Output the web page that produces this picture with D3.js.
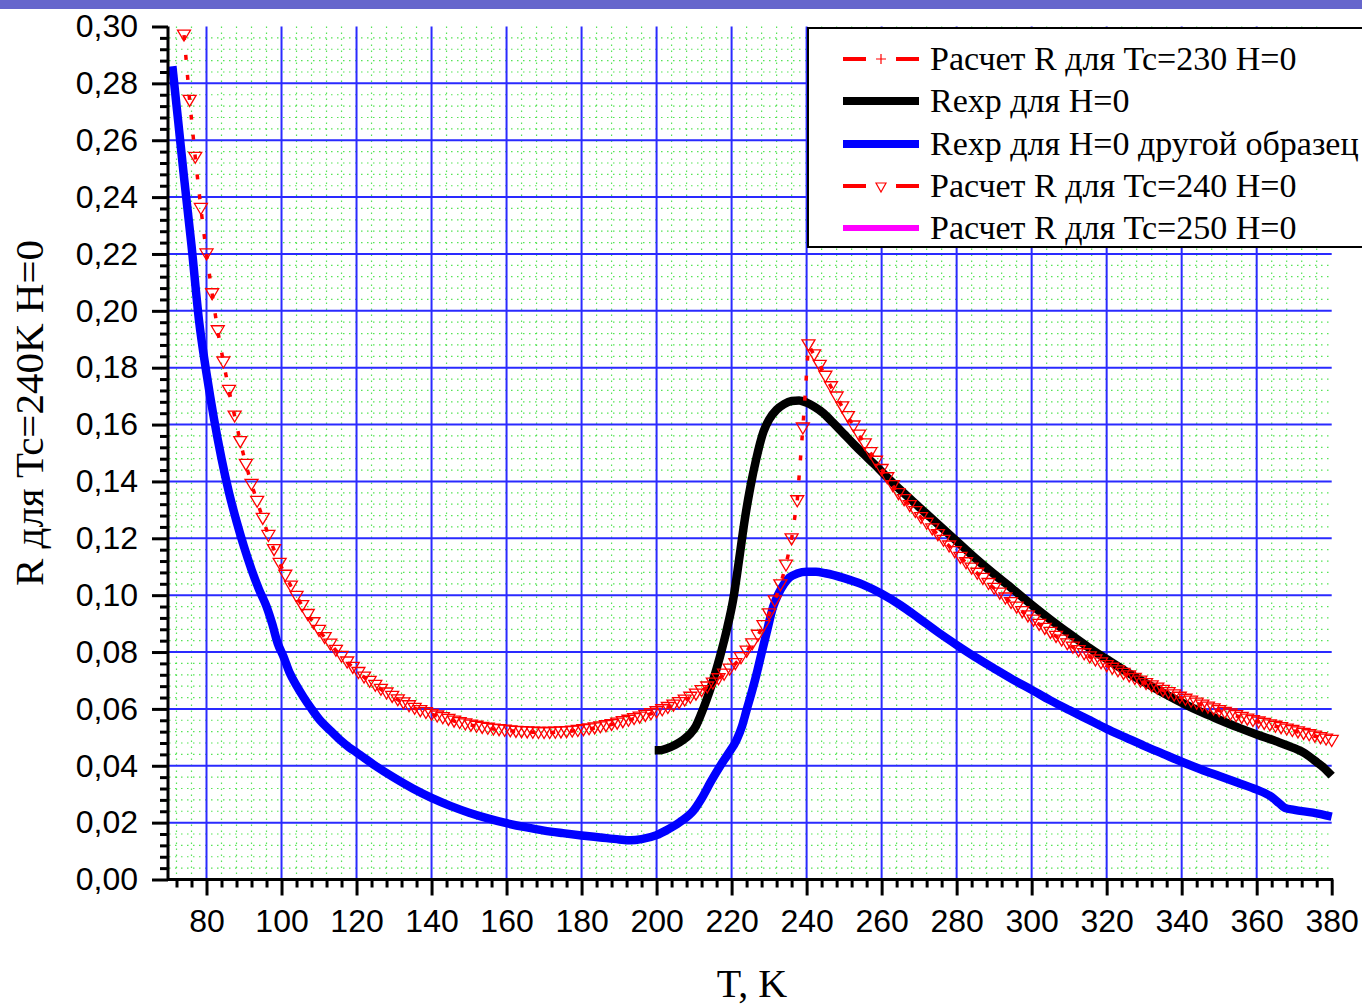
<!DOCTYPE html>
<html><head><meta charset="utf-8">
<script src="https://cdn.jsdelivr.net/npm/d3@7/dist/d3.min.js"></script>
<style>body{margin:0;background:#fff}svg{display:block}</style>
</head><body><svg id="c" width="1362" height="1008"></svg>
<script>
// ---------- data ----------
const xTicks = [80,100,120,140,160,180,200,220,240,260,280,300,320,340,360,380];
const xTickLabels = ["80","100","120","140","160","180","200","220","240","260","280","300","320","340","360","380"];
const yTicks = [0,0.02,0.04,0.06,0.08,0.10,0.12,0.14,0.16,0.18,0.20,0.22,0.24,0.26,0.28,0.30];
const yTickLabels = ["0,00","0,02","0,04","0,06","0,08","0,10","0,12","0,14","0,16","0,18","0,20","0,22","0,24","0,26","0,28","0,30"];
const legendLabels = ["Расчет R для Tc=230 H=0","Rexp для H=0","Rexp для H=0 другой образец","Расчет R для Tc=240 H=0","Расчет R для Tc=250 H=0"];

// Расчет R для Tc=230 H=0 (not visible in the plot)
const rCalc230 = [];
// Расчет R для Tc=250 H=0 (not visible in the plot)
const rCalc250 = [];

// Rexp для H=0  [T, R]
const rExp = [[199.5,0.0455],[201,0.0455],[202.7,0.0461],[205,0.0474],[207.1,0.0491],[209,0.0513],[210.5,0.054],[211.6,0.0573],
[213.3,0.0631],[215.1,0.0702],[216.9,0.0784],[218.7,0.0878],[220.4,0.0983],[222,0.1125],[223.5,0.1265],[225,0.138],[226.5,0.1475],
[228.5,0.1575],[230,0.1618],[232,0.1652],[234,0.1672],[236,0.1683],[238,0.1685],[240,0.1677],[242,0.1663],[244.5,0.164],[247,0.1607],
[250,0.1566],[252.5,0.1532],[255,0.1499],[258,0.1461],[261,0.1421],[265,0.137],[270,0.131],[275,0.125],[280,0.119],[285,0.113],
[290,0.1074],[295,0.1021],[300,0.0966],[305,0.0914],[310,0.0865],[315,0.0818],[320,0.0775],[325,0.0733],[330,0.0694],[335,0.0657],
[340,0.0622],[345,0.059],[350,0.0562],[355,0.0535],[360,0.051],[365,0.0487],[370,0.0462],[372,0.045],[374,0.0433],[376,0.0413],
[378,0.0392],[380,0.0365]];

// Rexp для H=0 другой образец  [T, R]
const rExpOther = [[70.9,0.286],[72.5,0.266],[74,0.247],[76,0.223],[78,0.1966],[80,0.178],[82,0.162],[84,0.148],[86,0.136],[88,0.126],
[90,0.117],[92,0.109],[94,0.102],[96,0.096],[97.5,0.09],[99,0.083],[100.5,0.0785],[102.2,0.0726],[104,0.0682],[105.8,0.0643],[108,0.06],
[110.2,0.0561],[113,0.0524],[115.6,0.0491],[118,0.0465],[120,0.0447],[125,0.04],[130,0.0358],[135,0.032],[140,0.0287],[145,0.0259],
[150,0.0235],[155,0.0215],[160,0.0198],[165,0.0184],[170,0.0172],[175,0.0163],[180,0.0155],[185,0.0148],[190,0.0141],[193,0.0138],
[196,0.0142],[200,0.0156],[203,0.0176],[206.2,0.0202],[210,0.0245],[212,0.0285],[214.5,0.0345],[217,0.04],[219,0.044],[221.3,0.049],
[222.8,0.054],[224,0.0596],[225.5,0.0665],[226.7,0.0725],[228,0.0797],[229.3,0.0866],[231.1,0.096],[232.5,0.1005],[234,0.104],
[235.5,0.1063],[237.5,0.1076],[240,0.1082],[242.5,0.1082],[245,0.1077],[250,0.106],[255,0.1037],[260,0.1005],[265,0.0965],[270,0.0918],
[275,0.087],[280,0.0825],[285,0.0782],[290,0.0742],[295,0.0703],[300,0.0667],[305,0.063],[310,0.0596],[315,0.0563],[320,0.053],
[325,0.05],[330,0.047],[335,0.0442],[340,0.0414],[345,0.0388],[350,0.0364],[355,0.034],[360,0.0316],[362,0.0305],[364,0.029],
[366,0.0268],[367.5,0.0252],[370,0.0245],[375,0.0235],[380,0.0221]];

// Расчет R для Tc=240 H=0  [T, R]
const rCalc240 = [[74,0.297],[75.5,0.274],[77,0.254],[78.5,0.236],[80,0.22],[81.5,0.206],[83,0.193],[84.5,0.182],[86,0.172],[87.5,0.163],
[89,0.154],[90.5,0.146],[92,0.139],[93.5,0.133],[95,0.127],[96.5,0.121],[98,0.116],[99.5,0.1112],[101,0.107],[102.5,0.1032],
[104,0.0996],[105.5,0.0963],[107,0.0932],[108.5,0.0903],[110,0.0876],[111.5,0.0851],[113,0.0828],[114.5,0.0806],[116,0.0785],
[117.5,0.0765],[119,0.0746],[120.5,0.0728],[122,0.0712],[123.5,0.0697],[125,0.0683],[126.5,0.0669],[128,0.0656],[129.5,0.0644],
[131,0.0632],[132.5,0.0621],[134,0.0611],[135.5,0.0602],[137,0.0594],[138.5,0.0587],[140,0.0581],[141.5,0.0575],[143,0.0569],
[144.5,0.0563],[146,0.0557],[147.5,0.0552],[149,0.0547],[150.5,0.0543],[152,0.0539],[153.5,0.0535],[155,0.0532],[156.5,0.0529],
[158,0.0527],[159.5,0.0525],[161,0.0523],[162.5,0.0521],[164,0.052],[165.5,0.0519],[167,0.0518],[168.5,0.0517],[170,0.0517],
[171.5,0.0517],[173,0.0518],[174.5,0.0519],[176,0.052],[177.5,0.0522],[179,0.0524],[180.5,0.0527],[182,0.053],[183.5,0.0533],
[185,0.0537],[186.5,0.0541],[188,0.0545],[189.5,0.055],[191,0.0555],[192.5,0.056],[194,0.0566],[195.5,0.0571],[197,0.0577],
[198.5,0.0583],[200,0.059],[201.5,0.0597],[203,0.0605],[204.5,0.0613],[206,0.0622],[207.5,0.0631],[209,0.0641],[210.5,0.0652],
[212,0.0664],[213.5,0.0677],[215,0.0691],[216.5,0.0706],[218,0.0722],[219.5,0.074],[221,0.0759],[222.5,0.078],[224,0.0803],
[225.5,0.0829],[227,0.0859],[228.5,0.0893],[230,0.0934],[231.5,0.098],[233,0.1036],[234.5,0.1106],[236,0.1198],[237.5,0.1332],
[239,0.1588],[240.5,0.188],[242,0.1845],[243.5,0.1808],[245,0.177],[246.5,0.1733],[248,0.1697],[249.5,0.1662],[251,0.1628],
[252.5,0.1595],[254,0.1563],[255.5,0.1532],[257,0.1501],[258.5,0.1471],[260,0.1442],[261.5,0.1413],[263,0.1385],[264.5,0.1357],
[266,0.1336],[267.5,0.1315],[269,0.1294],[270.5,0.1273],[272,0.1253],[273.5,0.1233],[275,0.1213],[276.5,0.1193],[278,0.1173],
[279.5,0.1153],[281,0.1133],[282.5,0.1114],[284,0.1095],[285.5,0.1077],[287,0.1059],[288.5,0.1041],[290,0.1024],[291.5,0.1007],
[293,0.099],[294.5,0.0974],[296,0.0958],[297.5,0.0942],[299,0.0927],[300.5,0.0912],[302,0.0897],[303.5,0.0883],[305,0.0869],
[306.5,0.0855],[308,0.0842],[309.5,0.0829],[311,0.0817],[312.5,0.0805],[314,0.0794],[315.5,0.0783],[317,0.0772],[318.5,0.0762],
[320,0.0752],[321.5,0.0743],[323,0.0734],[324.5,0.0725],[326,0.0716],[327.5,0.0707],[329,0.0698],[330.5,0.0689],[332,0.0681],
[333.5,0.0673],[335,0.0665],[336.5,0.0657],[338,0.0649],[339.5,0.0641],[341,0.0634],[342.5,0.0627],[344,0.062],[345.5,0.0613],
[347,0.0606],[348.5,0.06],[350,0.0594],[351.5,0.0588],[353,0.0582],[354.5,0.0576],[356,0.057],[357.5,0.0564],[359,0.0559],
[360.5,0.0554],[362,0.0549],[363.5,0.0544],[365,0.0539],[366.5,0.0534],[368,0.0529],[369.5,0.0524],[371,0.0519],[372.5,0.0514],
[374,0.0509],[375.5,0.0504],[377,0.0499],[378.5,0.0494],[380,0.0489]];

// ---------- drawing ----------
const svg = d3.select('#c');
const sans = "'Liberation Sans', Arial, sans-serif";
const serif = "'Liberation Serif', 'Times New Roman', serif";

svg.append('rect').attr('x',0).attr('y',0).attr('width',1362).attr('height',9).attr('fill','#6666cc');

const x = d3.scaleLinear().domain([70,380]).range([169,1331.7]);
const y = d3.scaleLinear().domain([0,0.30]).range([879.5,26.5]);
const [x0,x1] = x.range(), [y0,y1] = y.range();

const xMinor = d3.range(72,380,4).filter(v => v % 20 !== 0);
const yMinor = d3.range(1,75).map(i => i*0.004).filter((v,i) => (i+1) % 5 !== 0);

const grid = svg.append('g');
// minor dotted green grid
grid.selectAll('.gxm').data(xMinor).join('line')
  .attr('x1',d=>x(d)).attr('x2',d=>x(d)).attr('y1',y1).attr('y2',y0)
  .attr('stroke','#3be03b').attr('stroke-width',1.2).attr('stroke-dasharray','1.5,4.5').attr('opacity',0.85);
grid.selectAll('.gym').data(yMinor).join('line')
  .attr('y1',d=>y(d)).attr('y2',d=>y(d)).attr('x1',x0).attr('x2',x1)
  .attr('stroke','#3be03b').attr('stroke-width',1.2).attr('stroke-dasharray','1.5,4.5').attr('opacity',0.85);
// major blue grid
grid.selectAll('.gx').data(xTicks.filter(v=>v<380)).join('line')
  .attr('x1',d=>x(d)).attr('x2',d=>x(d)).attr('y1',y1).attr('y2',y0)
  .attr('stroke','#2a2aff').attr('stroke-width',2);
grid.selectAll('.gy').data(yTicks.filter(v=>v>0 && v<0.29)).join('line')
  .attr('y1',d=>y(d)).attr('y2',d=>y(d)).attr('x1',x0).attr('x2',x1)
  .attr('stroke','#2a2aff').attr('stroke-width',2);

const line = d3.line().x(d=>x(d[0])).y(d=>y(d[1])).curve(d3.curveMonotoneX);
const lineLin = d3.line().x(d=>x(d[0])).y(d=>y(d[1]));

// series in legend order
if (rCalc230.length) svg.append('path').datum(rCalc230).attr('d',lineLin).attr('fill','none').attr('stroke','red').attr('stroke-width',3.5).attr('stroke-dasharray','5,15');
svg.append('path').datum(rExp).attr('d',line).attr('fill','none').attr('stroke','#000').attr('stroke-width',8.5).attr('stroke-linejoin','round');
svg.append('path').datum(rExpOther).attr('d',line).attr('fill','none').attr('stroke','#0000ff').attr('stroke-width',8.5).attr('stroke-linejoin','round');
svg.append('path').datum(rCalc240).attr('d',lineLin).attr('fill','none').attr('stroke','red').attr('stroke-width',3.5).attr('stroke-dasharray','5,15');
const tri = 'M-6.5,-5L6.5,-5L0,6Z';
svg.append('g').selectAll('path').data(rCalc240).join('path')
  .attr('d',tri).attr('transform',d=>`translate(${x(d[0])},${y(d[1])})`)
  .attr('fill','none').attr('stroke','red').attr('stroke-width',1.3);
if (rCalc250.length) svg.append('path').datum(rCalc250).attr('d',line).attr('fill','none').attr('stroke','#ff00ff').attr('stroke-width',5);

// axes
function styleAxis(g){
  g.select('.domain').attr('stroke','#000').attr('stroke-width',3);
  g.selectAll('.tick line').attr('stroke','#000').attr('stroke-width',3);
  g.selectAll('text').attr('font-family',sans).attr('font-size',32).attr('fill','#000');
}
const xAxis = svg.append('g').attr('transform',`translate(0,${y0})`)
  .call(d3.axisBottom(x).tickValues(xTicks).tickSize(16).tickSizeOuter(0).tickPadding(14).tickFormat((d,i)=>xTickLabels[i]));
styleAxis(xAxis);
xAxis.select('.domain').attr('d',`M${x0-2},0H${x1+1.5}`);
const xAxisMinor = svg.append('g').attr('transform',`translate(0,${y0})`)
  .call(d3.axisBottom(x).tickValues(xMinor).tickSize(8).tickSizeOuter(0).tickFormat(''));
styleAxis(xAxisMinor); xAxisMinor.select('.domain').remove();

const yAxis = svg.append('g').attr('transform',`translate(${x0-1},0)`)
  .call(d3.axisLeft(y).tickValues(yTicks).tickSize(16).tickSizeOuter(0).tickPadding(14).tickFormat((d,i)=>yTickLabels[i]));
styleAxis(yAxis);
yAxis.select('.domain').attr('d',`M0,${y0+1.5}V${y1}`);
const yAxisMinor = svg.append('g').attr('transform',`translate(${x0-1},0)`)
  .call(d3.axisLeft(y).tickValues(yMinor).tickSize(8).tickSizeOuter(0).tickFormat(''));
styleAxis(yAxisMinor); yAxisMinor.select('.domain').remove();

// axis titles
svg.append('text').attr('x',752).attr('y',997).attr('text-anchor','middle')
  .attr('font-family',serif).attr('font-size',40).text('T, K');
svg.append('text').attr('transform','translate(43,413) rotate(-90)').attr('text-anchor','middle')
  .attr('font-family',serif).attr('font-size',41).text('R для Tc=240K H=0');

// legend
const lg = svg.append('g');
lg.append('rect').attr('x',808).attr('y',28).attr('width',620).attr('height',219)
  .attr('fill','#fff').attr('stroke','#000').attr('stroke-width',2);
const rowY = [59,101,144,186,228];
const sx0 = 843, sx1 = 919, sxm = 881;
// row 0: red dashed with +
lg.append('line').attr('x1',sx0).attr('x2',866).attr('y1',rowY[0]).attr('y2',rowY[0]).attr('stroke','red').attr('stroke-width',4);
lg.append('line').attr('x1',896).attr('x2',sx1).attr('y1',rowY[0]).attr('y2',rowY[0]).attr('stroke','red').attr('stroke-width',4);
lg.append('path').attr('d',`M${sxm-5},${rowY[0]}h10M${sxm},${rowY[0]-5}v10`).attr('stroke','red').attr('stroke-width',1.2);
// row 1: black
lg.append('line').attr('x1',sx0).attr('x2',sx1).attr('y1',rowY[1]).attr('y2',rowY[1]).attr('stroke','#000').attr('stroke-width',8);
// row 2: blue
lg.append('line').attr('x1',sx0).attr('x2',sx1).attr('y1',rowY[2]).attr('y2',rowY[2]).attr('stroke','#0000ff').attr('stroke-width',8);
// row 3: red dashed with triangle
lg.append('line').attr('x1',sx0).attr('x2',866).attr('y1',rowY[3]).attr('y2',rowY[3]).attr('stroke','red').attr('stroke-width',4);
lg.append('line').attr('x1',896).attr('x2',sx1).attr('y1',rowY[3]).attr('y2',rowY[3]).attr('stroke','red').attr('stroke-width',4);
lg.append('path').attr('d','M-5,-4L5,-4L0,5Z').attr('transform',`translate(${sxm},${rowY[3]+1})`).attr('fill','none').attr('stroke','red').attr('stroke-width',1.2);
// row 4: magenta
lg.append('line').attr('x1',sx0).attr('x2',sx1).attr('y1',rowY[4]).attr('y2',rowY[4]).attr('stroke','#ff00ff').attr('stroke-width',6);
lg.selectAll('text').data(legendLabels).join('text')
  .attr('x',930).attr('y',(d,i)=>rowY[i]+11).attr('font-family',serif).attr('font-size',34).attr('fill','#000').text(d=>d);
</script></body></html>
